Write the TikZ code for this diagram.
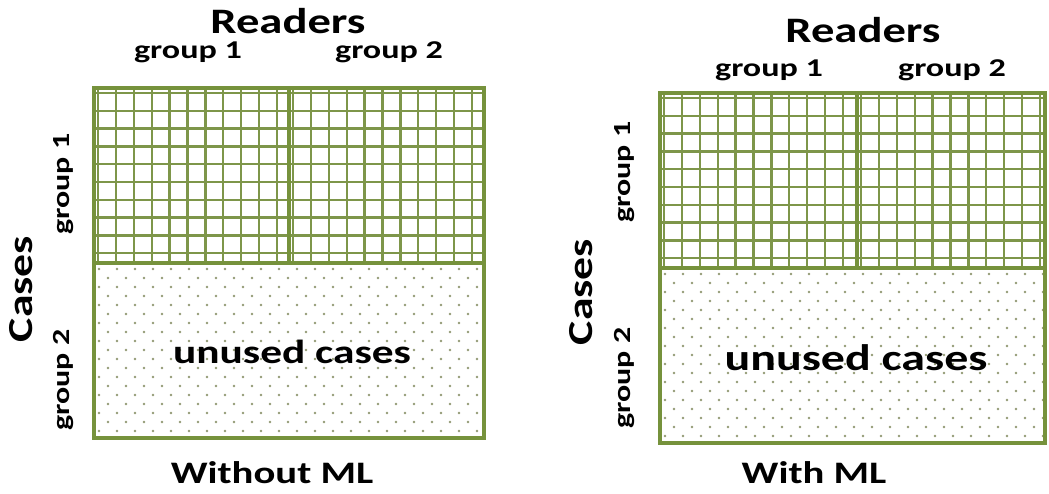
\documentclass[tikz,border=0pt]{standalone}
\usepackage{fontspec}
\setmainfont{Carlito}
\usepackage{tikz}
\usetikzlibrary{positioning}

\definecolor{olivegreen}{RGB}{118,146,60}
\definecolor{gridgreen}{RGB}{126,150,74}
\definecolor{dotgray}{RGB}{146,154,116}

\tikzset{
    border/.style={draw=olivegreen, line width=2.8pt},
    divider/.style={draw=olivegreen, line width=2.3pt},
    gridline/.style={draw=gridgreen, line width=1.3pt},
    dotmark/.style={fill=dotgray},
    titlelbl/.style={font=\bfseries\fontsize{20.4}{22}\selectfont, xscale=1.3, inner sep=0pt, anchor=base},
    grouplbl/.style={font=\bfseries\fontsize{14.6}{17}\selectfont, xscale=1.33, inner sep=0pt, anchor=base},
    sidetitle/.style={rotate=90, font=\bfseries\fontsize{20}{22}\selectfont, xscale=1.3, inner sep=0pt, anchor=base},
    sidegroup/.style={rotate=90, font=\bfseries\fontsize{14}{16}\selectfont, xscale=1.3, inner sep=0pt, anchor=base},
    unusedlbl/.style={font=\bfseries\fontsize{19}{21}\selectfont, xscale=1.3, inner sep=0pt, anchor=base},
    captionlbl/.style={font=\bfseries\fontsize{17.8}{20}\selectfont, xscale=1.3, inner sep=0pt, anchor=base}
}

\begin{document}
\begin{tikzpicture}[x=0.02cm,y=-0.02cm]
\useasboundingbox (0,0) rectangle (1049,494);
\fill[white] (0,0) rectangle (1049,494);

% panels: left x, top y, width, height, vertical divider, horizontal divider
\foreach \px/\py/\w/\h/\vx/\hy in {94/88/390/350/289/263, 660/93/385/350/857/268}{
    % reader/case grid
    \begin{scope}
        \clip (\px,\py) rectangle (\px+\w,\hy);
        \foreach \i in {0,...,10}{
            \draw[gridline] (\px+4+17.9*\i,\py) -- (\px+4+17.9*\i,\hy);
            \draw[gridline] (\vx+4+17.9*\i,\py) -- (\vx+4+17.9*\i,\hy);
        }
        \foreach \j in {0,...,9}
            \draw[gridline] (\px,\py+5+17.8*\j) -- (\px+\w,\py+5+17.8*\j);
    \end{scope}
    % dotted area
    \begin{scope}
        \clip (\px,\hy) rectangle (\px+\w,\py+\h);
        \foreach \r in {0,...,19}
            \foreach \c in {0,...,22}
                \fill[dotmark] ({\px+5+18*\c+9*mod(\r,2)},{\hy+6+9*\r}) circle (0.75pt);
    \end{scope}
    \draw[divider] (\px,\hy) -- (\px+\w,\hy);
    \draw[divider] (\vx,\py) -- (\vx,\hy);
    \draw[border] (\px,\py) rectangle (\px+\w,\py+\h);
}

% left panel labels
\node[titlelbl] (readersA) at (288,33) {Readers};
\node[grouplbl] (readgrpA1) at (188,58) {group 1};
\node[grouplbl] (readgrpA2) at (389,58) {group 2};
\node[sidetitle] (casesA) at (32,289) {Cases};
\node[sidegroup] (casegrpA1) at (70,184) {group 1};
\node[sidegroup] (casegrpA2) at (70,380) {group 2};
\node[unusedlbl] (unusedA) at (292,363) {unused cases};
\node[captionlbl] (withoutml) at (272,483) {Without ML};

% right panel labels
\node[titlelbl] (readersB) at (863,42) {Readers};
\node[grouplbl] (readgrpB1) at (769,76) {group 1};
\node[grouplbl] (readgrpB2) at (952,76) {group 2};
\node[sidetitle] (casesB) at (592,292) {Cases};
\node[sidegroup] (casegrpB1) at (630,172) {group 1};
\node[sidegroup] (casegrpB2) at (630,378) {group 2};
\node[unusedlbl, font=\bfseries\fontsize{21}{23}\selectfont] (unusedB) at (856,370) {unused cases};
\node[captionlbl] (withml) at (814,483) {With ML};
\end{tikzpicture}
\end{document}
